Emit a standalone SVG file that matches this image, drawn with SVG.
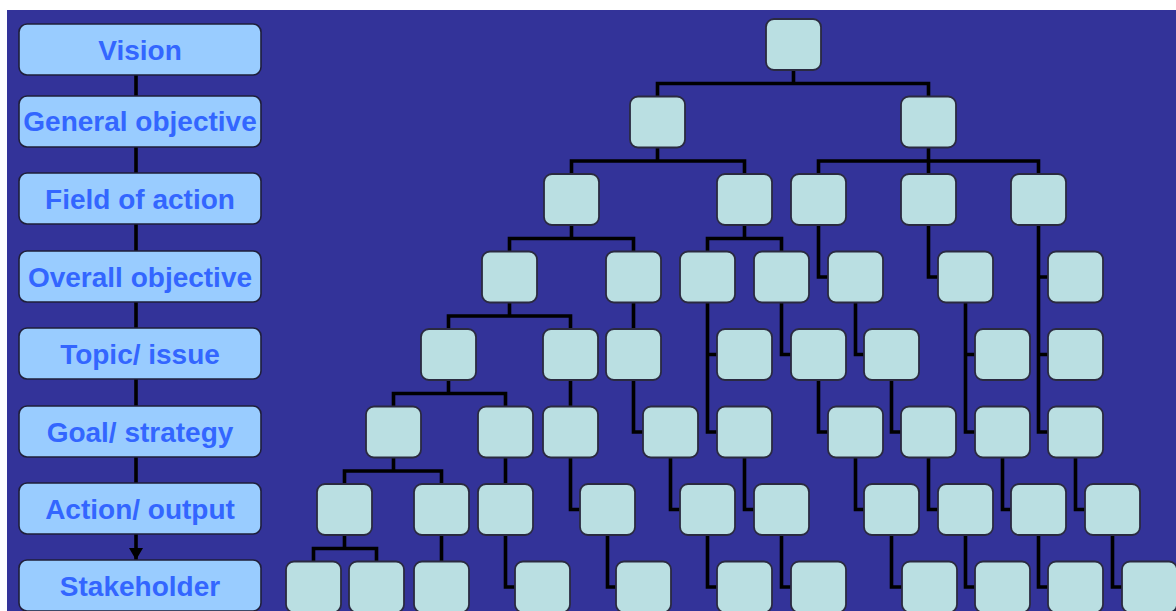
<svg xmlns="http://www.w3.org/2000/svg" width="1176" height="611" viewBox="0 0 1176 611">
<defs>
<style>
.lvl rect{fill:#99CCFF;stroke:#1f1f3a;stroke-width:1.6}
.lvl text{font-family:"Liberation Sans",Arial,sans-serif;font-weight:bold;font-size:28px;fill:#3366FF;text-anchor:middle}
.n rect{fill:#BADFE2;stroke:#2a2a40;stroke-width:1.8}
.c path{fill:none;stroke:#000;stroke-width:3.6;stroke-linejoin:miter;stroke-linecap:butt}
</style>
<marker id="ah" markerWidth="12" markerHeight="14" refX="12" refY="7" orient="auto" markerUnits="userSpaceOnUse" viewBox="0 0 12 14">
<path d="M0,0 L12,7 L0,14 Z" fill="#000"/>
</marker>
</defs>
<rect x="0" y="0" width="1176" height="611" fill="#FFFFFF"/>
<rect x="7" y="10" width="1169" height="601" fill="#333399"/>

<g id="connectors" class="c">
<path d="M136 75 V560" marker-end="url(#ah)"/>
<path d="M793.5 70 V83.5 M657.5 96.5 V83.5 H928.5 V96.5"/>
<path d="M657.5 147.5 V161 M571.5 174 V161 H744.5 V174"/>
<path d="M928.5 147.5 V174 M818.5 174 V161 H1038.5 V174"/>
<path d="M571.5 225 V238.5 M509.5 251.5 V238.5 H633.5 V251.5"/>
<path d="M744.5 225 V238.5 M707.5 251.5 V238.5 H781.5 V251.5"/>
<path d="M509.5 302.5 V316 M448.5 329 V316 H570.5 V329"/>
<path d="M448.5 380 V393.5 M393.5 406.5 V393.5 H505.5 V406.5"/>
<path d="M393.5 457.5 V471 M344.5 484 V471 H441.5 V484"/>
<path d="M344.5 535 V548.5 M313.5 561.5 V548.5 H376.5 V561.5"/>
<path d="M633.5 302.5 V329"/>
<path d="M570.5 380 V406.5"/>
<path d="M505.5 457.5 V484"/>
<path d="M441.5 535 V561.5"/>
<path d="M818.5 225 V277 H828"/>
<path d="M928.5 225 V277 H938"/>
<path d="M1038.5 225 V432 H1048 M1038.5 277 H1048 M1038.5 354.5 H1048"/>
<path d="M707.5 302.5 V432 H717 M707.5 354.5 H717"/>
<path d="M781.5 302.5 V354.5 H791"/>
<path d="M855.5 302.5 V354.5 H864"/>
<path d="M965.5 302.5 V432 H975 M965.5 354.5 H975"/>
<path d="M633.5 380 V432 H643"/>
<path d="M818.5 380 V432 H828"/>
<path d="M891.5 380 V432 H901"/>
<path d="M570.5 457.5 V509.5 H580"/>
<path d="M670.5 457.5 V509.5 H680"/>
<path d="M744.5 457.5 V509.5 H754"/>
<path d="M855.5 457.5 V509.5 H864"/>
<path d="M928.5 457.5 V509.5 H938"/>
<path d="M1002.5 457.5 V509.5 H1011"/>
<path d="M1075.5 457.5 V509.5 H1085"/>
<path d="M505.5 535 V587 H515"/>
<path d="M607.5 535 V587 H616"/>
<path d="M707.5 535 V587 H717"/>
<path d="M781.5 535 V587 H791"/>
<path d="M891.5 535 V587 H902"/>
<path d="M965.5 535 V587 H975"/>
<path d="M1038.5 535 V587 H1048"/>
<path d="M1112.5 535 V587 H1122"/>
</g>

<g id="level-vision" class="lvl"><rect x="19" y="24" width="242" height="51" rx="8"/><text x="140" y="60">Vision</text></g>
<g id="level-general-objective" class="lvl"><rect x="19" y="96" width="242" height="51" rx="8"/><text x="140" y="131">General objective</text></g>
<g id="level-field-of-action" class="lvl"><rect x="19" y="173" width="242" height="51" rx="8"/><text x="140" y="209">Field of action</text></g>
<g id="level-overall-objective" class="lvl"><rect x="19" y="251" width="242" height="51" rx="8"/><text x="140" y="287">Overall objective</text></g>
<g id="level-topic-issue" class="lvl"><rect x="19" y="328" width="242" height="51" rx="8"/><text x="140" y="364">Topic/ issue</text></g>
<g id="level-goal-strategy" class="lvl"><rect x="19" y="406" width="242" height="51" rx="8"/><text x="140" y="442">Goal/ strategy</text></g>
<g id="level-action-output" class="lvl"><rect x="19" y="483" width="242" height="51" rx="8"/><text x="140" y="519">Action/ output</text></g>
<g id="level-stakeholder" class="lvl"><rect x="19" y="560" width="242" height="51" rx="8"/><text x="140" y="596">Stakeholder</text></g>

<g id="n0-0" class="n"><rect x="766" y="19" width="55" height="51" rx="8"/></g>
<g id="n1-0" class="n"><rect x="630" y="96.5" width="55" height="51" rx="8"/></g>
<g id="n1-1" class="n"><rect x="901" y="96.5" width="55" height="51" rx="8"/></g>
<g id="n2-0" class="n"><rect x="544" y="174" width="55" height="51" rx="8"/></g>
<g id="n2-1" class="n"><rect x="717" y="174" width="55" height="51" rx="8"/></g>
<g id="n2-2" class="n"><rect x="791" y="174" width="55" height="51" rx="8"/></g>
<g id="n2-3" class="n"><rect x="901" y="174" width="55" height="51" rx="8"/></g>
<g id="n2-4" class="n"><rect x="1011" y="174" width="55" height="51" rx="8"/></g>
<g id="n3-0" class="n"><rect x="482" y="251.5" width="55" height="51" rx="8"/></g>
<g id="n3-1" class="n"><rect x="606" y="251.5" width="55" height="51" rx="8"/></g>
<g id="n3-2" class="n"><rect x="680" y="251.5" width="55" height="51" rx="8"/></g>
<g id="n3-3" class="n"><rect x="754" y="251.5" width="55" height="51" rx="8"/></g>
<g id="n3-4" class="n"><rect x="828" y="251.5" width="55" height="51" rx="8"/></g>
<g id="n3-5" class="n"><rect x="938" y="251.5" width="55" height="51" rx="8"/></g>
<g id="n3-6" class="n"><rect x="1048" y="251.5" width="55" height="51" rx="8"/></g>
<g id="n4-0" class="n"><rect x="421" y="329" width="55" height="51" rx="8"/></g>
<g id="n4-1" class="n"><rect x="543" y="329" width="55" height="51" rx="8"/></g>
<g id="n4-2" class="n"><rect x="606" y="329" width="55" height="51" rx="8"/></g>
<g id="n4-3" class="n"><rect x="717" y="329" width="55" height="51" rx="8"/></g>
<g id="n4-4" class="n"><rect x="791" y="329" width="55" height="51" rx="8"/></g>
<g id="n4-5" class="n"><rect x="864" y="329" width="55" height="51" rx="8"/></g>
<g id="n4-6" class="n"><rect x="975" y="329" width="55" height="51" rx="8"/></g>
<g id="n4-7" class="n"><rect x="1048" y="329" width="55" height="51" rx="8"/></g>
<g id="n5-0" class="n"><rect x="366" y="406.5" width="55" height="51" rx="8"/></g>
<g id="n5-1" class="n"><rect x="478" y="406.5" width="55" height="51" rx="8"/></g>
<g id="n5-2" class="n"><rect x="543" y="406.5" width="55" height="51" rx="8"/></g>
<g id="n5-3" class="n"><rect x="643" y="406.5" width="55" height="51" rx="8"/></g>
<g id="n5-4" class="n"><rect x="717" y="406.5" width="55" height="51" rx="8"/></g>
<g id="n5-5" class="n"><rect x="828" y="406.5" width="55" height="51" rx="8"/></g>
<g id="n5-6" class="n"><rect x="901" y="406.5" width="55" height="51" rx="8"/></g>
<g id="n5-7" class="n"><rect x="975" y="406.5" width="55" height="51" rx="8"/></g>
<g id="n5-8" class="n"><rect x="1048" y="406.5" width="55" height="51" rx="8"/></g>
<g id="n6-0" class="n"><rect x="317" y="484" width="55" height="51" rx="8"/></g>
<g id="n6-1" class="n"><rect x="414" y="484" width="55" height="51" rx="8"/></g>
<g id="n6-2" class="n"><rect x="478" y="484" width="55" height="51" rx="8"/></g>
<g id="n6-3" class="n"><rect x="580" y="484" width="55" height="51" rx="8"/></g>
<g id="n6-4" class="n"><rect x="680" y="484" width="55" height="51" rx="8"/></g>
<g id="n6-5" class="n"><rect x="754" y="484" width="55" height="51" rx="8"/></g>
<g id="n6-6" class="n"><rect x="864" y="484" width="55" height="51" rx="8"/></g>
<g id="n6-7" class="n"><rect x="938" y="484" width="55" height="51" rx="8"/></g>
<g id="n6-8" class="n"><rect x="1011" y="484" width="55" height="51" rx="8"/></g>
<g id="n6-9" class="n"><rect x="1085" y="484" width="55" height="51" rx="8"/></g>
<g id="n7-0" class="n"><rect x="286" y="561.5" width="55" height="51" rx="8"/></g>
<g id="n7-1" class="n"><rect x="349" y="561.5" width="55" height="51" rx="8"/></g>
<g id="n7-2" class="n"><rect x="414" y="561.5" width="55" height="51" rx="8"/></g>
<g id="n7-3" class="n"><rect x="515" y="561.5" width="55" height="51" rx="8"/></g>
<g id="n7-4" class="n"><rect x="616" y="561.5" width="55" height="51" rx="8"/></g>
<g id="n7-5" class="n"><rect x="717" y="561.5" width="55" height="51" rx="8"/></g>
<g id="n7-6" class="n"><rect x="791" y="561.5" width="55" height="51" rx="8"/></g>
<g id="n7-7" class="n"><rect x="902" y="561.5" width="55" height="51" rx="8"/></g>
<g id="n7-8" class="n"><rect x="975" y="561.5" width="55" height="51" rx="8"/></g>
<g id="n7-9" class="n"><rect x="1048" y="561.5" width="55" height="51" rx="8"/></g>
<g id="n7-10" class="n"><rect x="1122" y="561.5" width="55" height="51" rx="8"/></g>
</svg>
